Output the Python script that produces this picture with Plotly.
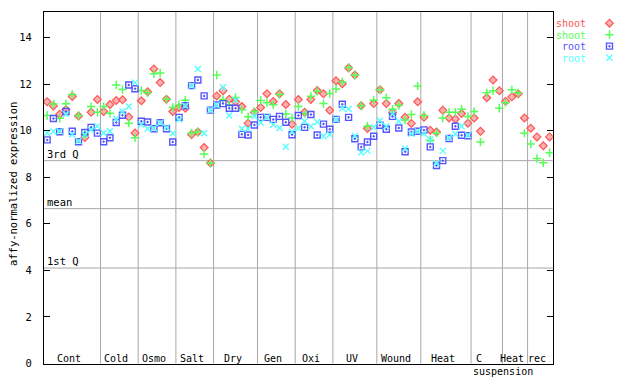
import plotly.graph_objects as go

# ---------------- data ----------------
categories = ["Cont", "Cold", "Osmo", "Salt", "Dry", "Gen", "Oxi", "UV",
              "Wound", "Heat", "C suspension", "Heat", "rec"]
samples_per_category = [9, 6, 6, 6, 7, 6, 6, 7, 7, 8, 5, 4, 4]

shoot_1 = [11.24, 11.06, 10.70, 10.91, 11.46, 10.63, 9.70, 10.79, 11.34,
           10.82, 11.12, 11.29, 11.32, 10.58, 9.90,
           11.28, 11.67, 12.65, 12.06, 11.35, 10.82,
           10.99, 10.96, 9.83, 9.94, 9.27, 8.61,
           11.49, 11.71, 11.35, 11.24, 11.03, 10.32, 10.78,
           10.99, 11.58, 11.25, 11.58, 11.12, 10.27,
           11.33, 10.79, 11.34, 11.72, 11.58, 10.87,
           12.14, 12.01, 12.69, 12.39, 11.07, 10.09, 11.16,
           11.75, 11.16, 10.79, 11.16, 10.57, 10.31, 11.24,
           10.57, 10.02, 9.94, 10.87, 10.54, 10.50, 10.73, 10.32,
           10.54, 9.97, 11.41, 12.17, 11.71,
           11.26, 11.45, 11.58, 10.54,
           10.10, 9.73, 9.35, 9.73]

shoot_2 = [10.65, 11.14, 10.53, 11.15, 11.55, 10.65, 9.83, 11.03, 10.79,
           11.03, 10.74, 11.96, 11.76, 10.32, 9.69,
           11.72, 11.62, 12.44, 12.47, 11.35, 10.99,
           11.10, 11.30, 9.90, 9.94, 9.00, 8.61,
           12.39, 11.34, 11.10, 11.42, 10.90, 10.60, 10.82,
           11.29, 11.20, 11.11, 11.55, 10.71, 10.54,
           11.03, 10.73, 11.47, 11.69, 11.16, 11.59,
           11.79, 12.09, 12.71, 12.39, 11.07, 10.19, 11.30,
           11.75, 11.41, 10.92, 11.09, 10.45, 10.69, 11.92,
           10.65, 9.59, 9.89, 10.54, 10.79, 10.79, 10.92, 10.61,
           10.82, 9.51, 11.62, 11.71, 10.96,
           11.20, 11.75, 11.62, 9.89,
           9.42, 8.80, 8.62, 9.05]

root_1 = [9.60, 10.52, 9.95, 10.82, 9.97, 9.52, 9.92, 10.14, 9.89,
          9.52, 9.69, 10.35, 10.66, 11.96, 11.80,
          10.40, 10.37, 10.08, 10.34, 10.08, 9.51,
          10.57, 11.07, 11.93, 12.17, 11.49, 10.88,
          11.10, 11.16, 10.96, 10.96, 9.84, 9.81, 10.24,
          10.57, 10.57, 10.48, 10.61, 10.36, 9.82,
          10.65, 10.14, 10.69, 9.81, 10.28, 10.06,
          10.48, 11.13, 10.57, 9.65, 9.30, 9.51, 9.76,
          10.23, 10.06, 10.61, 10.11, 9.09, 9.94, 9.97,
          10.03, 9.30, 8.50, 8.71, 9.66, 10.19, 9.80, 9.78,
          None, None, None, None, None,
          None, None, None, None,
          None, None, None, None]

root_2 = [9.90, 9.96, 9.97, 10.71, 9.83, 9.55, 9.83, 10.04, 10.19,
          9.90, 9.97, 10.51, 10.82, 11.03, 12.06,
          10.26, 10.08, 10.10, 10.34, 10.14, 9.89,
          10.48, 11.07, 11.93, 12.64, 9.89, 10.88,
          11.10, 11.86, 10.65, 11.31, 10.08, 10.08, 10.62,
          10.35, 10.57, 10.25, 10.11, 9.31, 9.95,
          10.11, 10.40, 10.19, 10.37, 9.76, 9.83,
          10.48, 10.96, 10.93, 9.77, 9.06, 9.13, 10.14,
          10.42, 10.19, 10.71, 10.40, 9.23, 9.86, 9.97,
          9.86, 9.62, 8.60, 9.13, 9.69, 9.85, 10.19, 9.80,
          None, None, None, None, None,
          None, None, None, None,
          None, None, None, None]

series_names = ["shoot", "shoot", "root", "root"]
ref_lines = {"3rd Q": 8.71, "mean": 6.65, "1st Q": 4.10}
y_ticks = [0, 2, 4, 6, 8, 10, 12, 14]
y_title = "affy-normalized expression"

# ---------------- layout geometry ----------------
W, H = 640, 384
PL, PR, PT, PB = 44, 552.7, 12, 369.3
FONT = "DejaVu Sans Mono"
FS = 10
LEG_PITCH = 11.7


def fx(p):
    return p / W


def fy(p):
    return 1 - p / H


n = len(shoot_1)
xs = list(range(1, n + 1))

styles = [
    dict(symbol="diamond", size=6, color="#ffb0b0", line=dict(color="#ff5555", width=1.2)),
    dict(symbol="cross-thin", size=6, color="#55ff55", line=dict(color="#55ff55", width=1.5)),
    dict(symbol="square-open-dot", size=6, color="#5555ff", line=dict(color="#5555ff", width=1.4)),
    dict(symbol="x-thin", size=6, color="#55ffff", line=dict(color="#55ffff", width=1.4)),
]
text_colors = ["#ff5555", "#55ff55", "#5555ff", "#55ffff"]

fig = go.Figure()
for vals, st in zip([shoot_1, shoot_2, root_1, root_2], styles):
    fig.add_trace(go.Scatter(x=xs, y=vals, mode="markers", marker=st,
                             showlegend=False, hoverinfo="skip",
                             xaxis="x", yaxis="y"))

# legend symbols on a full-canvas pixel axis
leg_y = [23.5 + k * LEG_PITCH for k in range(4)]
for i, st in enumerate(styles):
    fig.add_trace(go.Scatter(x=[609.5], y=[leg_y[i]], mode="markers", marker=st,
                             showlegend=False, hoverinfo="skip",
                             xaxis="x2", yaxis="y2"))

shapes = []
# category dividers
bound = 0
for cnt in samples_per_category[:-1]:
    bound += cnt
    shapes.append(dict(type="line", xref="x", yref="y domain", x0=bound + 0.5, x1=bound + 0.5,
                       y0=0, y1=1, line=dict(color="#a8a8a8", width=1), layer="below"))
# reference lines
for name, v in ref_lines.items():
    shapes.append(dict(type="line", xref="x domain", yref="y", x0=0, x1=1, y0=v, y1=v,
                       line=dict(color="#a8a8a8", width=1), layer="below"))

annotations = []
for name, v in ref_lines.items():
    annotations.append(dict(x=0, xref="x domain", y=v, yref="y", text=name, showarrow=False,
                            xanchor="left", yanchor="bottom", xshift=1, yshift=-1,
                            font=dict(family=FONT, size=FS + 0.5, color="black")))

# category labels
start = 0
for cat, cnt in zip(categories, samples_per_category):
    center = start + (cnt + 1) / 2
    if cat == "C suspension":
        annotations.append(dict(x=center, xref="x", y=fy(364), yref="paper", text="C",
                                showarrow=False, xanchor="center", yanchor="middle", xshift=-8,
                                font=dict(family=FONT, size=FS, color="black")))
        annotations.append(dict(x=center, xref="x", y=fy(377.5), yref="paper", text="suspension",
                                showarrow=False, xanchor="center", yanchor="middle", xshift=16,
                                font=dict(family=FONT, size=FS, color="black")))
    else:
        annotations.append(dict(x=center, xref="x", y=fy(364), yref="paper", text=cat,
                                showarrow=False, xanchor="center", yanchor="middle", xshift=-3,
                                font=dict(family=FONT, size=FS, color="black")))
    start += cnt

# legend texts: one block, line pitch set by the base font, glyph size by spans
legend_text = "<br>".join(
    "<span style='font-size:10px;color:%s'>%s</span>" % (c, s)
    for s, c in zip(series_names, text_colors))
annotations.append(dict(x=fx(587), xref="paper", y=fy(17.5), yref="paper", text=legend_text,
                        showarrow=False, xanchor="right", yanchor="top", align="right",
                        borderpad=0,
                        font=dict(family=FONT, size=LEG_PITCH / 1.3, color="black")))

# y title
annotations.append(dict(x=fx(12.5), xref="paper", y=fy(187.5), yref="paper", text=y_title,
                        showarrow=False, textangle=-90, xanchor="center", yanchor="middle",
                        font=dict(family=FONT, size=FS + 0.5, color="black")))

fig.update_layout(
    width=W, height=H,
    margin=dict(l=0, r=0, t=0, b=0),
    paper_bgcolor="white", plot_bgcolor="rgba(0,0,0,0)",
    xaxis=dict(domain=[fx(PL), fx(PR)], range=[0.5, n + 0.5], showgrid=False, zeroline=False,
               showline=True, mirror=True, linecolor="black", linewidth=1, ticks="",
               showticklabels=False, anchor="y"),
    yaxis=dict(domain=[fy(PB), fy(PT)], range=[0, 15.1], tickvals=y_ticks,
               ticktext=[str(t) for t in y_ticks], ticks="inside", ticklen=6, tickcolor="black",
               showline=True, mirror="ticks", linecolor="black", linewidth=1,
               showgrid=False, zeroline=False, ticklabelstandoff=9,
               tickfont=dict(family=FONT, size=FS + 0.5, color="black"), anchor="x"),
    xaxis2=dict(domain=[0, 1], range=[0, W], visible=False, anchor="y2"),
    yaxis2=dict(domain=[0, 1], range=[H, 0], visible=False, anchor="x2"),
    shapes=shapes,
    annotations=annotations,
    showlegend=False,
)

fig.write_html("out.html",
               config={"displayModeBar": False, "staticPlot": True},
               post_script="document.body.style.margin='0';document.body.style.overflow='hidden';")
